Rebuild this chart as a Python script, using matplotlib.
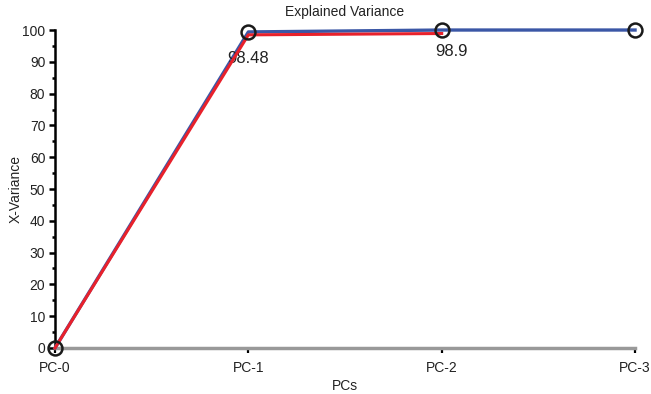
import numpy as np
import matplotlib.pyplot as plt
from matplotlib.ticker import MultipleLocator

plt.rcParams['font.family'] = ['Liberation Sans', 'DejaVu Sans']

# data
pcs = ['PC-0', 'PC-1', 'PC-2', 'PC-3']
total_var = [0, 99.4, 100, 100]      # blue series
cal_var = [0, 98.48, 98.9]           # red series
notes = ['98.48', '98.9']
note_x = [1.0, 2.05]
note_y = [91.2, 93.4]

fig = plt.figure(figsize=(6.51, 3.94), dpi=100)
ax = fig.add_axes([0.0845, 0.1168, 0.891, 0.807])

x = np.arange(len(pcs))
ax.plot(x, total_var, color='#3b57a6', lw=2.4, zorder=3, clip_on=False)
ax.plot(x[:len(cal_var)], cal_var, color='#e8212b', lw=2.2, zorder=4, clip_on=False)
ax.plot(x, total_var, 'o', ms=10, mfc='none', mec='#1a1a1a', mew=1.8,
        zorder=5, clip_on=False)

for xi, yi, s in zip(note_x, note_y, notes):
    ax.text(xi, yi, s, ha='center', va='center', fontsize=12, color='#222222')

ax.set_xlim(0, 3)
ax.set_ylim(0, 100)
ax.set_xticks(x)
ax.set_xticklabels(pcs, fontsize=10, color='#222222')
ax.yaxis.set_major_locator(MultipleLocator(10))
ax.yaxis.set_minor_locator(MultipleLocator(5))
ax.tick_params(axis='y', which='major', length=4, width=1.8, labelsize=10,
               labelcolor='#222222', pad=3)
ax.tick_params(axis='y', which='minor', length=2.5, width=1.8)
ax.tick_params(axis='x', length=3.5, width=1.6, pad=6)

for side in ['top', 'right']:
    ax.spines[side].set_visible(False)
ax.spines['left'].set_linewidth(1.8)
ax.spines['bottom'].set_color('#999999')
ax.spines['bottom'].set_linewidth(2.5)

ax.set_title('Explained Variance', fontsize=10, color='#222222', pad=10)
ax.set_xlabel('PCs', fontsize=10, color='#222222', labelpad=3)
ax.set_ylabel('X-Variance', fontsize=10, color='#222222')
ax.yaxis.set_label_coords(-0.056, 0.5)

plt.savefig('out.png', dpi=100)
